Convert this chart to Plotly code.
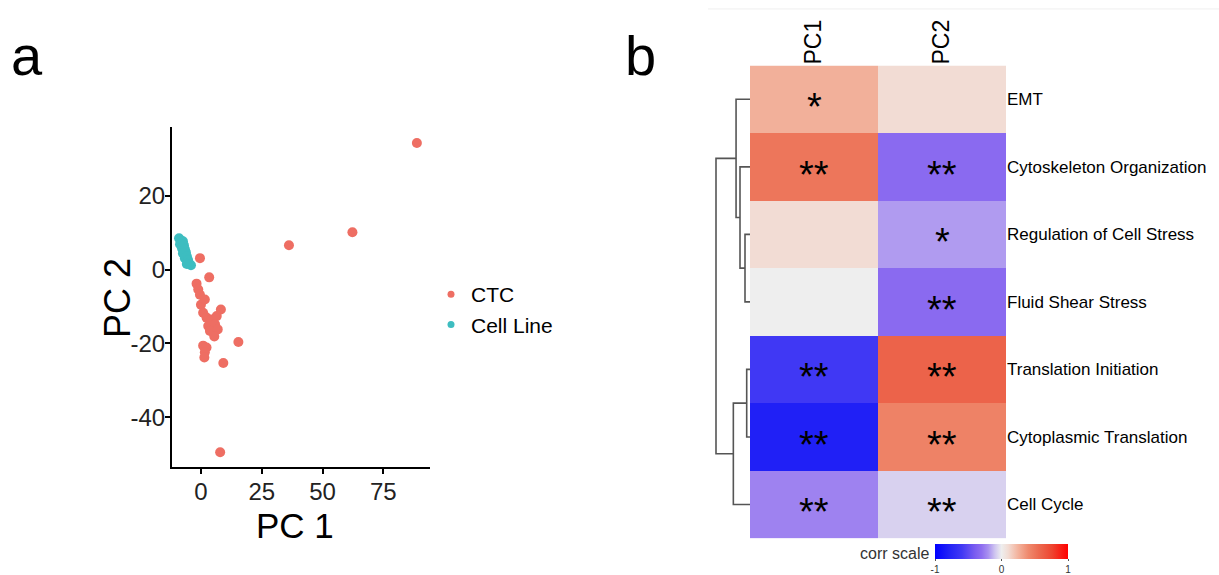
import plotly.graph_objects as go

# ---------------- data: panel a (PCA scatter) ----------------
ctc_pc1 = [88.8, 62.3, 36.2, 7.9, -0.4, 3.4, -1.8, -1.1, -0.4, 0.0, 1.6, 0.9, 8.2, 2.3, 4.4,
           6.5, 3.0, 5.8, 3.7, 6.9, 5.5, 15.4, 0.9, 2.3, 1.6, 1.4, 9.2]
ctc_pc2 = [34.3, 10.1, 6.6, -49.5, 3.1, -2.1, -3.8, -5.4, -6.8, -9.5, -8.1, -11.7, -10.8, -13.0, -13.5,
           -12.6, -15.3, -14.8, -16.6, -16.2, -18.1, -19.6, -20.6, -21.1, -22.4, -23.8, -25.3]
cell_pc1 = [-9.0, -8.2, -7.4, -8.6, -7.0, -7.8, -6.6, -6.2, -7.4, -5.8, -6.6, -5.3, -4.9, -4.1, -5.8]
cell_pc2 = [8.5, 7.9, 7.7, 6.9, 6.6, 5.8, 5.5, 4.7, 4.4, 3.6, 3.1, 2.6, 1.7, 1.2, 1.5]
x_ticks = [0, 25, 50, 75]
y_ticks = [-40, -20, 0, 20]
y_tick_text = ["-40", "-20", "0", "20"]

# ---------------- data: panel b (correlation heatmap) ----------------
pathways = ["EMT", "Cytoskeleton Organization", "Regulation of Cell Stress", "Fluid Shear Stress",
            "Translation Initiation", "Cytoplasmic Translation", "Cell Cycle"]
components = ["PC1", "PC2"]
corr_pc1 = [0.26, 0.50, 0.10, 0.00, -0.60, -0.80, -0.24]
corr_pc2 = [0.10, -0.32, -0.18, -0.32, 0.60, 0.44, -0.07]
sig_pc1 = ["*", "**", "", "", "**", "**", "**"]
sig_pc2 = ["", "**", "*", "**", "**", "**", "**"]
# hierarchical clustering merges: (child a, child b, height); leaves 0..6, clusters 7+
merges = [(2, 3, 0.147), (1, 7, 0.294), (0, 8, 0.41), (4, 5, 0.097), (6, 10, 0.49), (9, 11, 1.0)]

W, H = 1219, 575
FONT = "Liberation Sans, Arial, sans-serif"
RED = "#EE6E63"
TEAL = "#3DBDC0"

def px(x):
    return x / W

def py(y):
    return 1 - y / H

fig = go.Figure()

# scatter points
fig.add_trace(go.Scatter(x=ctc_pc1, y=ctc_pc2, mode="markers", showlegend=False,
                         marker=dict(color=RED, size=10, line=dict(width=0)), xaxis="x", yaxis="y"))
fig.add_trace(go.Scatter(x=cell_pc1, y=cell_pc2, mode="markers", showlegend=False,
                         marker=dict(color=TEAL, size=10, line=dict(width=0)), xaxis="x", yaxis="y"))
# legend entries
fig.add_trace(go.Scatter(x=[None], y=[None], mode="markers", name="CTC",
                         marker=dict(color=RED, size=7), xaxis="x", yaxis="y"))
fig.add_trace(go.Scatter(x=[None], y=[None], mode="markers", name="Cell Line",
                         marker=dict(color=TEAL, size=7), xaxis="x", yaxis="y"))

# heatmap
colorscale = [
    [0.00, "#0000FF"], [0.10, "#2020F6"], [0.20, "#4038F4"], [0.30, "#7A5CF0"],
    [0.35, "#8E6EF0"], [0.40, "#A890F0"], [0.45, "#CFC5F0"], [0.50, "#EEEEEE"],
    [0.55, "#F2DCD4"], [0.62, "#F3B5A0"], [0.70, "#EF8A6E"], [0.78, "#EC6A50"],
    [0.88, "#EE4530"], [1.00, "#FF0000"],
]
z = [[a, b] for a, b in zip(corr_pc1, corr_pc2)]
fig.add_trace(go.Heatmap(
    z=z, x=[0, 1], y=list(range(len(pathways))), zmin=-1, zmax=1,
    colorscale=colorscale, xaxis="x2", yaxis="y2", hoverinfo="skip",
    colorbar=dict(orientation="h", x=px(1001.5), xanchor="center", y=py(548), yanchor="top",
                  len=133, lenmode="pixels", thickness=15, thicknessmode="pixels",
                  xpad=0, ypad=0, outlinewidth=0,
                  tickvals=[-1, 0, 1], ticktext=["-1", "0", "1"], ticks="outside", ticklen=2,
                  tickcolor="#555", tickfont=dict(size=10, color="#333", family=FONT)),
))

# dendrogram from merges
n = len(pathways)
pos = {i: float(i) for i in range(n)}
hgt = {i: 0.0 for i in range(n)}
dx, dy = [], []
for k, (a, b, h) in enumerate(merges):
    cid = n + k
    dx += [hgt[a], h, h, hgt[b], None]
    dy += [pos[a], pos[a], pos[b], pos[b], None]
    pos[cid] = (pos[a] + pos[b]) / 2
    hgt[cid] = h
fig.add_trace(go.Scatter(x=dx, y=dy, mode="lines", showlegend=False, hoverinfo="skip",
                         line=dict(color="#555555", width=1.6), xaxis="x3", yaxis="y2"))

annotations = []
for i in range(n):
    for j, sig in enumerate((sig_pc1[i], sig_pc2[i])):
        if sig:
            annotations.append(dict(x=j, y=i, xref="x2", yref="y2", text=sig, showarrow=False,
                                    xanchor="center", yanchor="middle",
                                    font=dict(size=38, color="black", family=FONT), yshift=-8))

def label(x, y, text, size, color="black", angle=0, xanchor="center"):
    return dict(x=px(x), y=py(y), xref="paper", yref="paper", text=text, showarrow=False,
                xanchor=xanchor, yanchor="middle", textangle=angle,
                font=dict(size=size, color=color, family=FONT))

annotations += [
    label(27, 56, "a", 56),
    label(640, 56, "b", 56),
    label(295, 529, "PC 1", 35),
    label(118, 300, "PC 2", 36, angle=-90),
    label(931, 557, "corr scale", 16, color="#333", xanchor="right"),
]

axis_common = dict(showline=True, linecolor="black", linewidth=2, ticks="outside", ticklen=5,
                   tickwidth=1.5, tickcolor="black", showgrid=False, zeroline=False,
                   tickfont=dict(size=24, color="#222"))

fig.update_layout(
    width=W, height=H, margin=dict(l=0, r=0, t=0, b=0),
    paper_bgcolor="white", plot_bgcolor="white",
    font=dict(family=FONT, color="black"),
    showlegend=True,
    legend=dict(x=px(431), y=py(276), xanchor="left", yanchor="top",
                font=dict(size=21, color="black", family=FONT), bgcolor="rgba(0,0,0,0)",
                tracegroupgap=0, itemwidth=30),
    xaxis=dict(domain=[px(172), px(430)], range=[-11.9, 94.2], tickvals=x_ticks,
               ticklabelstandoff=-3, anchor="y", **axis_common),
    yaxis=dict(domain=[py(470), py(128)], range=[-53.4, 38.6], tickvals=y_ticks,
               ticktext=y_tick_text, ticklabelstandoff=-5, anchor="x", **axis_common),
    xaxis2=dict(domain=[px(750), px(1006)], range=[-0.5, 1.5], side="top", tickvals=[0, 1],
                ticktext=components, tickangle=-90, ticks="", showline=False, showgrid=False,
                zeroline=False, tickfont=dict(size=23, color="black"), anchor="y2"),
    yaxis2=dict(domain=[py(542), py(66)], range=[n - 0.5, -0.5], side="right",
                tickvals=list(range(n)), ticktext=pathways, ticks="", showline=False,
                showgrid=False, zeroline=False, tickfont=dict(size=17, color="black"), anchor="x2"),
    xaxis3=dict(domain=[px(712), px(750)], range=[38 / 34, 0], visible=False, anchor="y2"),
    annotations=annotations,
    shapes=[
        dict(type="line", xref="paper", yref="paper", x0=px(708), x1=1, y0=py(9), y1=py(9),
             line=dict(color="#EFEFEF", width=1)),
    ],
)

fig.write_html("out.html")
